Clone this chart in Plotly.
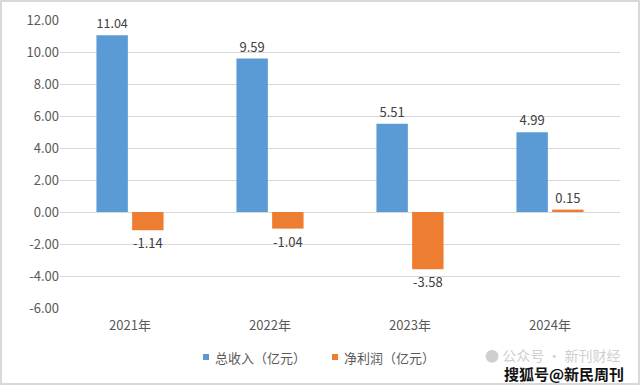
import plotly.graph_objects as go

categories = ["2021年", "2022年", "2023年", "2024年"]
revenue = [11.04, 9.59, 5.51, 4.99]
profit = [-1.14, -1.04, -3.58, 0.15]
tick_vals = [-6, -4, -2, 0, 2, 4, 6, 8, 10, 12]
tick_text = ["-6.00", "-4.00", "-2.00", "0.00", "2.00", "4.00", "6.00", "8.00", "10.00", "12.00"]
series_names = ["总收入（亿元）", "净利润（亿元）"]
colors = ["#5B9BD5", "#ED7D31"]

font_family = "Noto Sans CJK SC, DejaVu Sans, sans-serif"
txt_color = "#595959"

fig = go.Figure()
for vals, name, col in zip([revenue, profit], series_names, colors):
    fig.add_trace(go.Bar(
        x=categories, y=vals, name=name,
        marker=dict(color=col, line=dict(width=0)),
        text=[f"{v:.2f}" for v in vals], textposition="outside",
        textfont=dict(size=13, color="#404040", family=font_family),
        cliponaxis=False,
    ))

PW, PH = 560, 288  # plot area size in px
def px_x(x):
    return (x - 60) / PW
def px_y(y):
    return (308 - y) / PH

fig.update_layout(
    width=640, height=385,
    margin=dict(l=60, r=20, t=20, b=77, autoexpand=False),
    paper_bgcolor="white", plot_bgcolor="white",
    barmode="group", bargap=0.49, bargroupgap=0.12,
    font=dict(family=font_family, size=13, color=txt_color),
    showlegend=False,
    xaxis=dict(showgrid=False, showline=False, ticks="", zeroline=False,
               ticklabelstandoff=8,
               tickfont=dict(size=13, color=txt_color), automargin=False),
    yaxis=dict(range=[-6, 12], tickvals=tick_vals, ticktext=tick_text,
               showgrid=True, gridcolor="#D9D9D9", gridwidth=1,
               zeroline=True, zerolinecolor="#D9D9D9", zerolinewidth=1,
               showline=False, ticks="", ticklen=0, automargin=False,
               tickfont=dict(size=13, color=txt_color)),
)

# outer border
fig.add_shape(type="rect", xref="paper", yref="paper", x0=px_x(1), x1=px_x(639),
              y0=px_y(384), y1=px_y(1), line=dict(color="#D9D9D9", width=2))

# custom legend
legend_items = [(203, 213), (332, 342)]
for (sx, tx), name, col in zip(legend_items, series_names, colors):
    fig.add_shape(type="rect", xref="paper", yref="paper",
                  x0=px_x(sx), x1=px_x(sx + 6), y0=px_y(360), y1=px_y(354),
                  fillcolor=col, line=dict(width=0))
    fig.add_annotation(text=name, xref="paper", yref="paper",
                       x=px_x(tx), y=px_y(357), xanchor="left", yanchor="middle",
                       showarrow=False, font=dict(size=13, color=txt_color, family=font_family))

# watermarks
fig.add_annotation(text="● 公众号 · 新刊财经", xref="paper", yref="paper",
                   x=px_x(622), y=px_y(355), xanchor="right", yanchor="middle", showarrow=False,
                   font=dict(size=14, color="#CFCFCF", family=font_family))
fig.add_annotation(text="<b>搜狐号@新民周刊</b>", xref="paper", yref="paper",
                   x=px_x(626), y=px_y(373), xanchor="right", yanchor="middle", showarrow=False,
                   font=dict(size=15, color="#111111", family=font_family))

fig.write_html("out.html", config={"displayModeBar": False},
               post_script="document.body.style.margin='0';document.body.style.overflow='hidden';")
